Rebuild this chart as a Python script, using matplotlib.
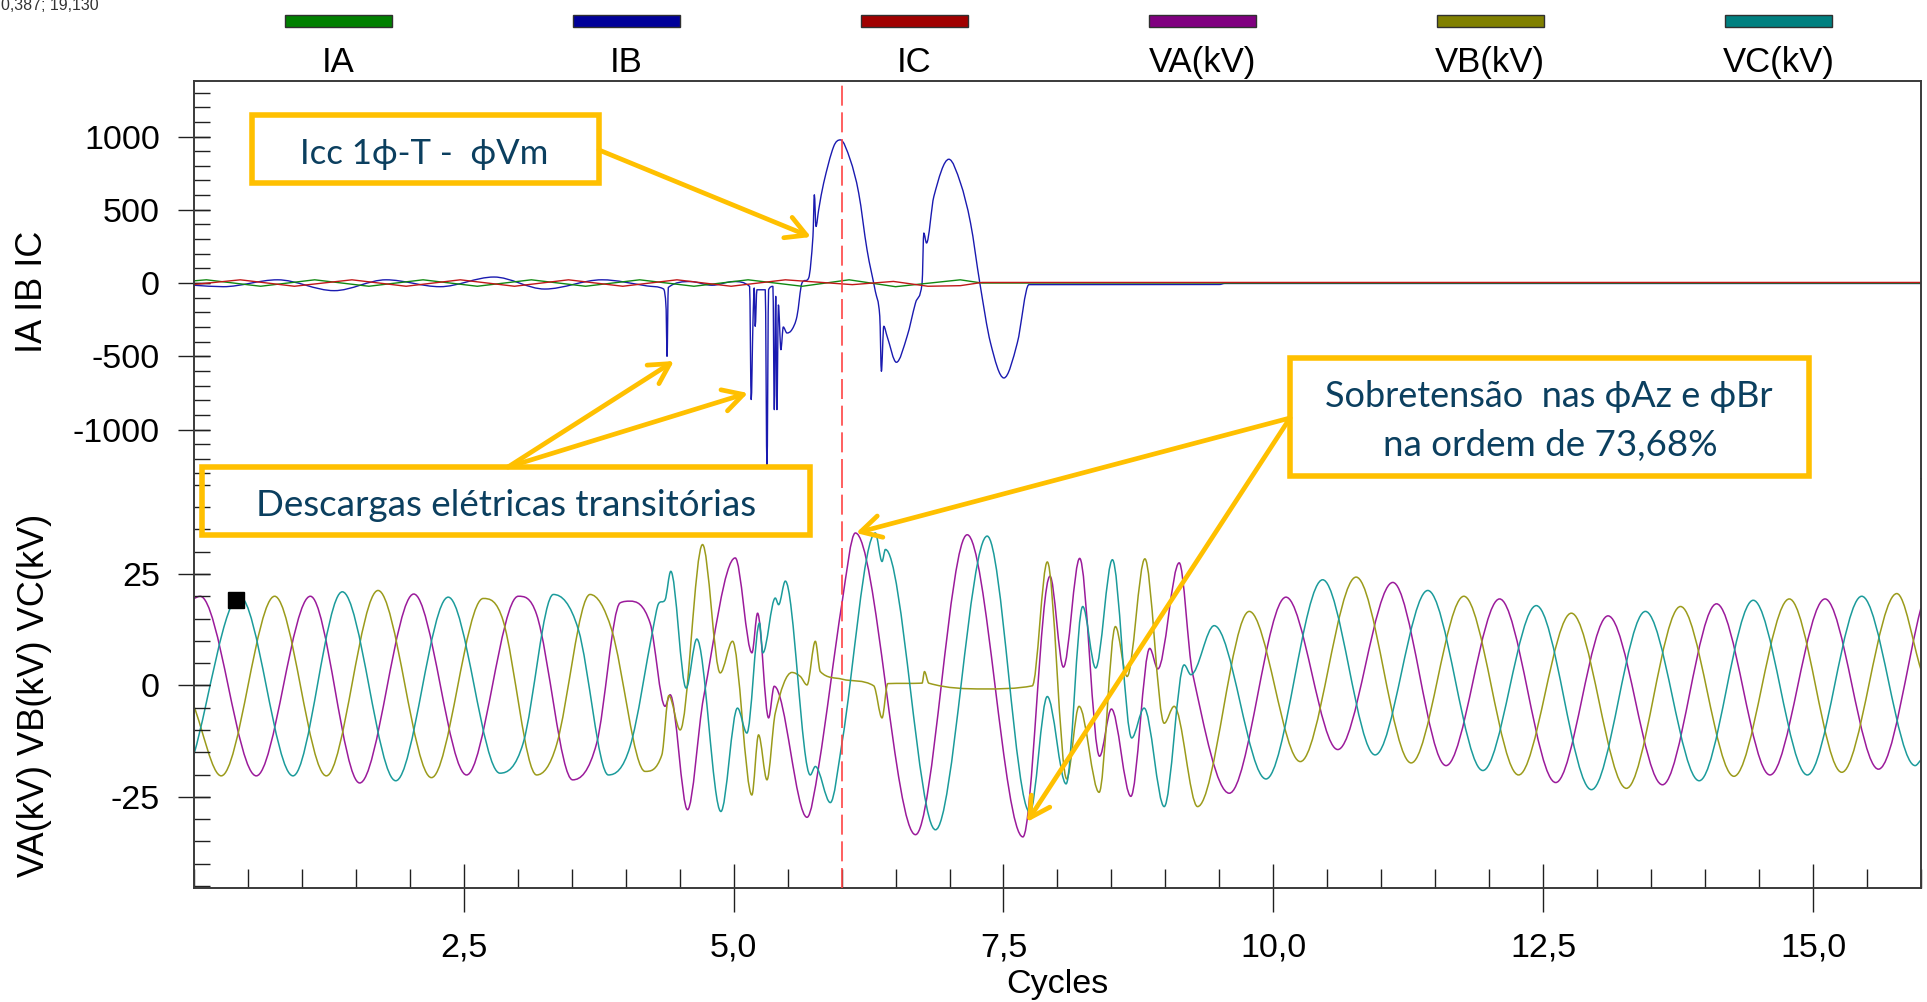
import numpy as np
import matplotlib.pyplot as plt
from matplotlib.path import Path
from matplotlib.patches import PathPatch, Rectangle, FancyArrowPatch
from matplotlib.ticker import FixedLocator, MultipleLocator, FuncFormatter

plt.rcParams["axes.unicode_minus"] = False

# ---- currents (A), time in cycles ----
ia_t = [0.0, 0.116, 0.618, 1.119, 1.621, 2.123, 2.625, 3.126, 3.628, 4.13, 4.632,
        5.134, 5.635, 6.07, 6.5, 7.1, 7.3, 16.0]
ia_v = [15, 22, -22, 22, -22, 22, -22, 22, -22, 22, -22, 22, -22, 22, -25, 22, 0, 0]

ic_t = [0.0, 0.43, 0.931, 1.464, 1.966, 2.468, 2.97, 3.47, 3.973, 4.475, 4.977,
        5.479, 6.1, 6.48, 6.8, 7.1, 7.3, 16.0]
ic_v = [-10, 22, -22, 22, -22, 22, -22, 22, -22, 22, -22, 22, -11, 11, -22, -18, 4, 4]

ib_t = [0.0, 0.27, 0.775, 1.30, 1.78, 2.28, 2.78, 3.25, 3.78, 4.2, 4.35, 4.375, 4.383,
        4.395, 4.6, 4.8, 5.0, 5.148, 5.163, 5.179, 5.191, 5.2, 5.216, 5.293, 5.309,
        5.324, 5.364, 5.377, 5.39, 5.401, 5.415, 5.438, 5.46, 5.494, 5.54, 5.587,
        5.633, 5.695, 5.735, 5.748, 5.763, 5.788, 5.834, 5.927, 5.989, 6.081, 6.159,
        6.236, 6.313, 6.354, 6.369, 6.391, 6.422, 6.508, 6.607, 6.685, 6.746, 6.762,
        6.787, 6.855, 6.994, 7.102, 7.195, 7.281, 7.38, 7.504, 7.628, 7.736, 9.5,
        9.55, 16.0]
ib_v = [-15, -25, 22, -52, 22, -25, 41, -41, 22, -20, -40, -180, -500, -30, 10, -15,
        10, -23, -795, -273, -34, -295, -46, -46, -1262, -46, -23, -864, -91, -864,
        -150, -455, -300, -341, -318, -227, 0, 34, 318, 602, 386, 500, 682, 932, 977,
        840, 613, 227, -57, -227, -602, -295, -364, -541, -364, -136, 0, 341, 273,
        591, 845, 682, 409, 0, -409, -648, -409, -11, -10, -3, -3]

# ---- voltages (kV) ----
va_t = [0.0, 0.058, 0.578, 1.079, 1.536, 2.037, 2.526, 3.005, 3.175, 3.509, 3.732,
        3.948, 4.04, 4.226, 4.365, 4.412, 4.573, 4.721, 5.015, 5.17, 5.222, 5.324,
        5.376, 5.68, 5.788, 6.004, 6.128, 6.685, 7.164, 7.68, 7.931, 8.055, 8.206,
        8.39, 8.50, 8.68, 8.855, 8.93, 9.128, 9.251, 9.592, 10.117, 10.597, 11.107,
        11.6, 12.096, 12.616, 13.101, 13.605, 14.106, 14.601, 15.111, 15.606, 16.0]
va_v = [19.5, 20.0, -20.3, 20.0, -21.9, 20.5, -20.1, 20.0, 15.9, -21.2, -12.9, 18.5,
        18.9, 14.0, -4.7, -2.1, -27.9, -2.8, 28.6, 7.3, 16.2, -7.3, -0.2, -29.6,
        -18.2, 18.5, 34.2, -33.5, 33.8, -34.0, 24.5, 4.1, 28.5, -15.9, -5.3, -24.9,
        8.3, 3.7, 27.5, 2.8, -24.2, 19.8, -14.4, 23.1, -18.0, 19.4, -21.8, 15.6,
        -22.3, 18.3, -20.1, 19.4, -18.8, 17.4]

vb_t = [0.0, 0.253, 0.748, 1.227, 1.706, 2.201, 2.68, 2.866, 3.175, 3.36, 3.67, 3.87,
        4.18, 4.335, 4.40, 4.505, 4.712, 4.876, 4.99, 5.169, 5.231, 5.309, 5.386,
        5.54, 5.618, 5.68, 5.757, 5.803, 6.004, 6.298, 6.375, 6.428, 6.746, 6.768,
        6.808, 7.318, 7.767, 7.906, 8.086, 8.2, 8.386, 8.537, 8.645, 8.81, 8.989,
        9.081, 9.298, 9.777, 10.25, 10.767, 11.277, 11.765, 12.272, 12.761, 13.271,
        13.772, 14.267, 14.78, 15.266, 15.776, 16.0]
vb_v = [-4.7, -20.3, 20.0, -20.3, 21.3, -20.7, 19.5, 14.4, -20.1, -13.3, 20.4, 12.5,
        -19.3, -15.6, -2.3, -10.0, 31.6, 2.8, 9.9, -24.6, -11.1, -21.2, -6.2, 2.9,
        2.0, 0.1, 9.9, 3.1, 1.4, -0.1, -7.3, 0.4, 0.5, 3.1, 0.5, -0.8, -0.1, 27.7,
        -21.0, -4.7, -24.0, 13.2, 2.0, 28.4, -8.5, -4.7, -27.2, 16.6, -17.1, 24.3,
        -17.4, 20.0, -20.1, 16.2, -23.1, 17.7, -20.4, 19.4, -19.5, 20.6, 3.5]

vc_t = [0.0, 0.423, 0.918, 1.375, 1.87, 2.356, 2.835, 3.051, 3.33, 3.562, 3.84,
        4.041, 4.257, 4.304, 4.365, 4.418, 4.56, 4.659, 4.882, 5.036, 5.123, 5.24,
        5.271, 5.386, 5.417, 5.479, 5.71, 5.757, 5.896, 6.004, 6.313, 6.375, 6.406,
        6.87, 7.349, 7.745, 7.906, 8.08, 8.234, 8.354, 8.509, 8.688, 8.803, 8.989,
        9.174, 9.236, 9.452, 9.932, 10.457, 10.943, 11.431, 11.941, 12.436, 12.947,
        13.447, 13.945, 14.446, 14.947, 15.451, 15.946, 16.0]
vc_v = [-15.5, 20.0, -20.3, 21.0, -21.4, 19.8, -19.7, -12.9, 20.4, 12.5, -20.1,
        -13.7, 13.2, 18.3, 19.2, 25.6, -0.6, 10.4, -28.3, -5.1, -10.7, 14.0, 7.3,
        19.6, 18.1, 23.4, -20.1, -18.2, -26.3, -12.9, 34.2, 27.8, 30.5, -32.4, 33.5,
        -28.5, -2.5, -22.1, 17.7, 3.9, 28.2, -11.8, -5.1, -27.2, 4.6, 2.4, 13.4,
        -21.0, 23.7, -15.6, 21.3, -19.1, 17.9, -23.4, 16.6, -21.4, 19.1, -20.1, 20.0,
        -18.0, -16.7]

cursor_t, cursor_v = 0.387, 19.13
fault_t = 6.0

legend_labels = ["IA", "IB", "IC", "VA(kV)", "VB(kV)", "VC(kV)"]
legend_colors = ["#008000", "#000099", "#a00000", "#800080", "#808000", "#008080"]
xtick_vals = [2.5, 5.0, 7.5, 10.0, 12.5, 15.0]

W, H = 1927, 1002
ARIAL = "Liberation Sans"
NOTE_FONT = ["Lato", "DejaVu Sans"]
ORANGE = "#ffc000"
NOTE_COLOR = "#0b3f5f"


def fx(x):
    return x / W


def fy(y):
    return 1 - y / H


def smooth_line(ax, t, v, color, lw=1.0):
    # monotone cubic curve through the read points (rendering only)
    t = np.asarray(t, float)
    v = np.asarray(v, float)
    d = np.diff(v) / np.diff(t)
    m = np.zeros_like(v)
    m[0], m[-1] = d[0], d[-1]
    for i in range(1, len(v) - 1):
        if d[i - 1] * d[i] > 0:
            c = (v[i + 1] - v[i - 1]) / (t[i + 1] - t[i - 1])
            lim = 3 * min(abs(d[i - 1]), abs(d[i]))
            m[i] = np.sign(c) * min(abs(c), lim)
    verts = [(t[0], v[0])]
    codes = [Path.MOVETO]
    for i in range(len(t) - 1):
        h = t[i + 1] - t[i]
        verts += [(t[i] + h / 3, v[i] + m[i] * h / 3),
                  (t[i + 1] - h / 3, v[i + 1] - m[i + 1] * h / 3),
                  (t[i + 1], v[i + 1])]
        codes += [Path.CURVE4] * 3
    ax.add_patch(PathPatch(Path(verts, codes), fill=False, edgecolor=color,
                           lw=lw, joinstyle="round"))


fig = plt.figure(figsize=(W / 100, H / 100), dpi=100)
left, right, top, mid, bottom = 193.9, 1921, 81, 479.5, 887.7
ax1 = fig.add_axes([fx(left), fy(mid), fx(right) - fx(left), fy(top) - fy(mid)])
ax2 = fig.add_axes([fx(left), fy(bottom), fx(right) - fx(left), fy(mid) - fy(bottom)])

# currents
ax1.plot(ia_t, ia_v, color="#118811", lw=1.0)
ax1.plot(ic_t, ic_v, color="#c01818", lw=1.0)
smooth_line(ax1, ib_t, ib_v, "#1a1ab0", lw=1.0)

# voltages
smooth_line(ax2, va_t, va_v, "#9b1b9b", lw=1.1)
smooth_line(ax2, vb_t, vb_v, "#9b9b1b", lw=1.1)
smooth_line(ax2, vc_t, vc_v, "#1b9b9b", lw=1.1)
ax2.plot([cursor_t], [cursor_v], marker="s", ms=11, color="black", zorder=5)

for ax in (ax1, ax2):
    ax.axvline(fault_t, color="#ff4444", lw=1.2, dashes=(12, 4), zorder=4)
    ax.set_xlim(0, 16)
    for sp in ax.spines.values():
        sp.set_color("#3a3a3a")
        sp.set_linewidth(1.4)

ax1.set_ylim(-1341, 1379)
ax2.set_ylim(-45.4, 46.2)
ax1.spines["bottom"].set_visible(False)
ax2.spines["top"].set_visible(False)
ax1.tick_params(axis="x", which="both", bottom=False, labelbottom=False)

ax1.yaxis.set_major_locator(FixedLocator([-1000, -500, 0, 500, 1000]))
ax1.yaxis.set_minor_locator(MultipleLocator(100))
ax2.yaxis.set_major_locator(FixedLocator([-25, 0, 25]))
ax2.yaxis.set_minor_locator(MultipleLocator(5))

ax2.xaxis.set_major_locator(FixedLocator(xtick_vals))
ax2.xaxis.set_minor_locator(MultipleLocator(0.5))
ax2.xaxis.set_major_formatter(FuncFormatter(lambda x, p: f"{x:.1f}".replace(".", ",")))

for ax in (ax1, ax2):
    ax.yaxis.remove_overlapping_locs = False
    ax.yaxis.set_tick_params(which="major", direction="inout", length=23, width=1,
                             color="#202020", pad=13, labelsize=24.5)
    ax.yaxis.set_tick_params(which="minor", direction="in", length=11.5, width=1,
                             color="#202020")
ax2.xaxis.set_tick_params(which="major", direction="inout", length=34, width=1,
                          color="#202020", pad=15, labelsize=24.5)
ax2.xaxis.set_tick_params(which="minor", direction="in", length=13.7, width=1,
                          color="#202020")

for ax in (ax1, ax2):
    for lab in ax.get_yticklabels() + ax.get_xticklabels():
        lab.set_family(ARIAL)

# axis titles
fig.text(fx(32), fy(292), "IA IB IC", rotation=90, ha="center", va="center",
         fontsize=26, family=ARIAL)
fig.text(fx(35), fy(695), "VA(kV) VB(kV) VC(kV)", rotation=90, ha="center",
         va="center", fontsize=26, family=ARIAL)
fig.text(fx(1057), fy(993), "Cycles", ha="center", va="baseline", fontsize=24.5,
         family=ARIAL)
fig.text(fx(1), fy(10), "0,387; 19,130", ha="left", va="baseline", fontsize=11.5,
         family=ARIAL, color="#333333")

# legend strip at the top
for k, (lab, col) in enumerate(zip(legend_labels, legend_colors)):
    cx = 338.3 + k * 288.0
    fig.add_artist(Rectangle((fx(cx - 53.5), fy(27)), 107 / W, 12 / H,
                             transform=fig.transFigure, facecolor=col,
                             edgecolor="#303030", lw=1.0))
    fig.text(fx(cx), fy(72), lab, ha="center", va="baseline", fontsize=25,
             family=ARIAL)

# annotation boxes
boxes = [(252, 115, 599, 183), (202, 467, 810, 535), (1290, 358, 1809, 476)]
for x0, y0, x1, y1 in boxes:
    fig.add_artist(Rectangle((fx(x0), fy(y1)), (x1 - x0) / W, (y1 - y0) / H,
                             transform=fig.transFigure, facecolor="none",
                             edgecolor=ORANGE, lw=4, zorder=6))

fig.text(fx(424), fy(154), "Icc 1\u03d5-T -  \u03d5Vm", ha="center", va="center",
         fontsize=25, family=NOTE_FONT, color=NOTE_COLOR, zorder=7)
fig.text(fx(506), fy(505), "Descargas elétricas transitórias", ha="center",
         va="center", fontsize=26.5, family=NOTE_FONT, color=NOTE_COLOR, zorder=7)
fig.text(fx(1549), fy(397), "Sobretensão  nas \u03d5Az e \u03d5Br", ha="center",
         va="center", fontsize=26, family=NOTE_FONT, color=NOTE_COLOR, zorder=7)
fig.text(fx(1550), fy(445), "na ordem de 73,68%", ha="center", va="center",
         fontsize=26.5, family=NOTE_FONT, color=NOTE_COLOR, zorder=7)

arrows = [((599, 150), (811, 237)), ((508, 467), (674, 361)), ((508, 467), (748, 393)),
          ((1290, 418), (856, 533)), ((1290, 418), (1027, 822))]
for (xa, ya), (xb, yb) in arrows:
    fig.add_artist(FancyArrowPatch((fx(xa), fy(ya)), (fx(xb), fy(yb)),
                                   transform=fig.transFigure,
                                   arrowstyle="->,head_length=0.4,head_width=0.22",
                                   mutation_scale=36, color=ORANGE, lw=3.4,
                                   shrinkA=0, shrinkB=0, zorder=6))

fig.savefig("out.png", dpi=100)
